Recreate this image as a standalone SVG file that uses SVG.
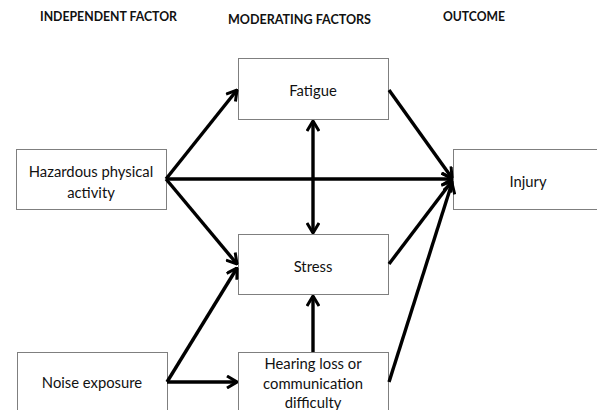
<svg xmlns="http://www.w3.org/2000/svg" width="597" height="410" viewBox="0 0 597 410">
<style>
.box{fill:#fff;stroke:#7f7f7f;stroke-width:1}
.t{font-family:Lato,"Open Sans","Liberation Sans",sans-serif;font-size:14.8px;fill:#111;text-anchor:middle}
.h{font-family:Lato,"Open Sans","Liberation Sans",sans-serif;font-size:13.5px;font-weight:bold;fill:#111;text-anchor:middle}
.c{stroke:#000;stroke-width:3.4;fill:none;marker-end:url(#ah)}
</style>
<defs>
<marker id="ah" viewBox="0 0 12 14" refX="11" refY="7" markerWidth="12" markerHeight="14" markerUnits="userSpaceOnUse" orient="auto-start-reverse">
<path d="M1,1 L11,7 L1,13" fill="none" stroke="#000" stroke-width="3" stroke-linejoin="miter"/>
</marker>
</defs>
<text class="h" x="108.5" y="21" textLength="137" lengthAdjust="spacingAndGlyphs">INDEPENDENT FACTOR</text>
<text class="h" x="299.5" y="24" textLength="143" lengthAdjust="spacingAndGlyphs">MODERATING FACTORS</text>
<text class="h" x="474" y="21" textLength="62" lengthAdjust="spacingAndGlyphs">OUTCOME</text>
<g id="hazard"><rect class="box" x="16.5" y="149.5" width="150" height="60"/><text class="t" x="91" y="177">Hazardous physical</text><text class="t" x="91" y="198">activity</text></g>
<g id="noise"><rect class="box" x="17.5" y="352.5" width="150" height="70"/><text class="t" x="92" y="388">Noise exposure</text></g>
<g id="fatigue"><rect class="box" x="238.5" y="58.5" width="150" height="61"/><text class="t" x="313" y="96">Fatigue</text></g>
<g id="stress"><rect class="box" x="238.5" y="234.5" width="150" height="60"/><text class="t" x="313" y="272">Stress</text></g>
<g id="hearing"><rect class="box" x="238.5" y="352.5" width="150" height="70"/><text class="t" x="313" y="369">Hearing loss or</text><text class="t" x="313" y="389">communication</text><text class="t" x="313" y="408">difficulty</text></g>
<g id="injury"><rect class="box" x="453.5" y="149.5" width="150" height="60"/><text class="t" x="528" y="187">Injury</text></g>
<g id="connectors">
<path class="c" d="M166,179 L237,90"/>
<path class="c" d="M166,179 L452,179"/>
<path class="c" d="M166,179 L237,264"/>
<path class="c" d="M167,382 L237,268"/>
<path class="c" d="M167,382 L237,382"/>
<path class="c" d="M389,90 L452,178"/>
<path class="c" d="M389,264 L452,181"/>
<path class="c" d="M389,382 L452,183"/>
<path class="c" d="M313,121 L313,233" marker-start="url(#ah)"/>
<path class="c" d="M313,352 L313,296"/>
</g>
</svg>
